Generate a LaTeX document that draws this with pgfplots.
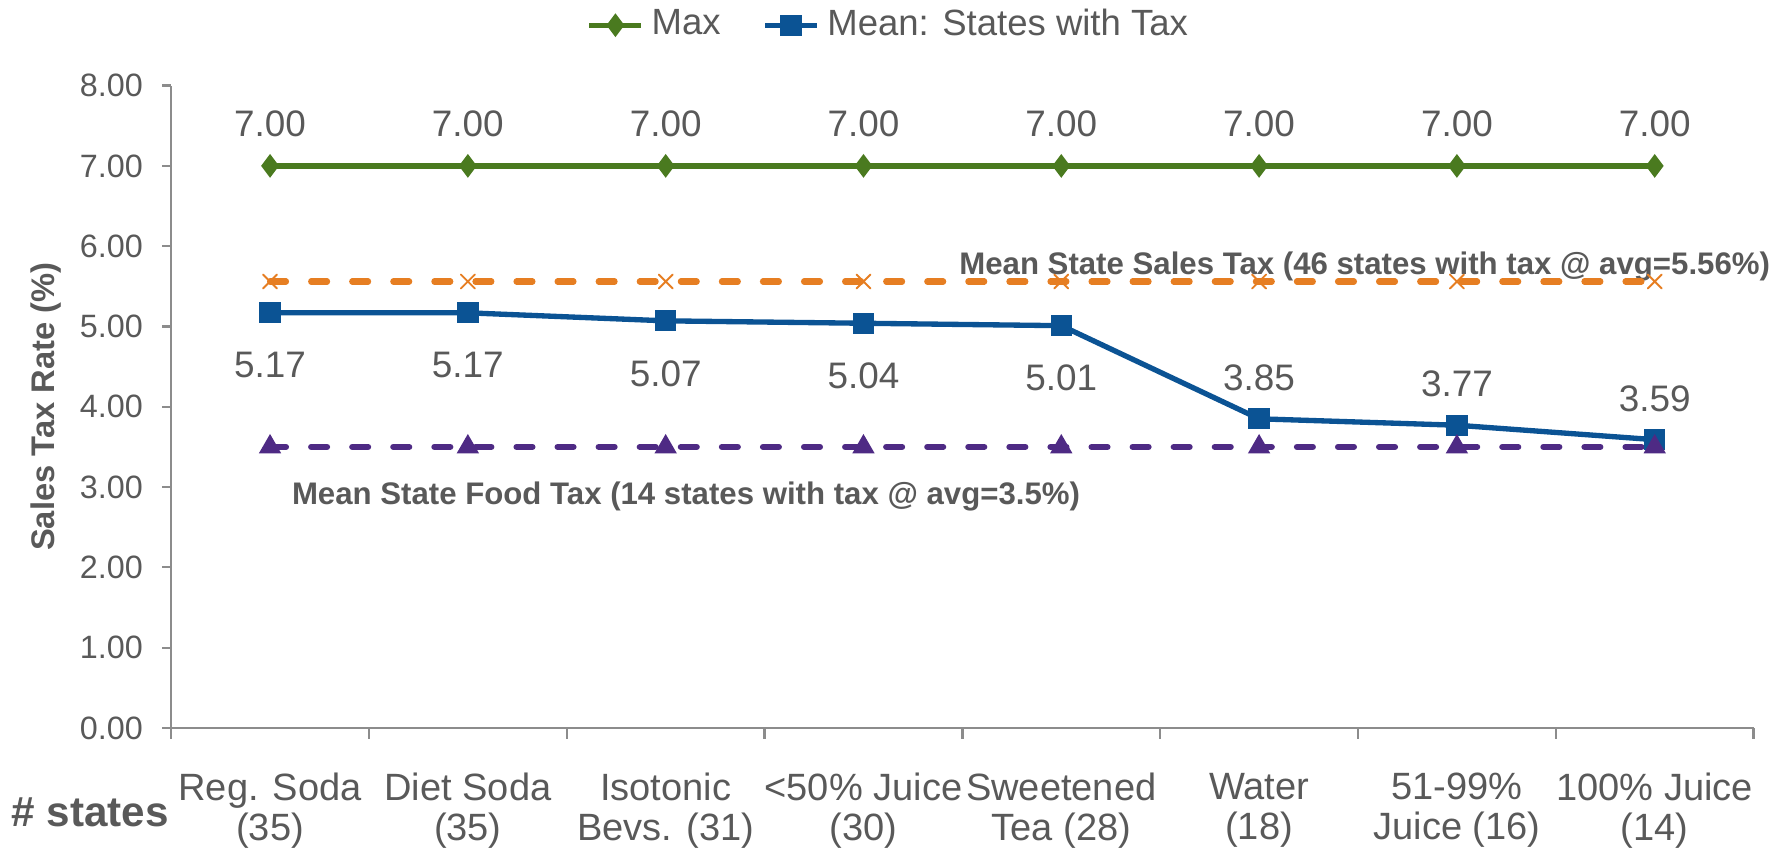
\documentclass[border=0pt]{standalone}
\usepackage{pgfplots}
\pgfplotsset{compat=1.18}
\usepackage{pgfplotstable}
\usepackage{fontspec}
\setmainfont{Liberation Sans}

\definecolor{maxgreen}{HTML}{4A7A1F}
\definecolor{meanblue}{HTML}{0B5394}
\definecolor{salesorange}{HTML}{E67E22}
\definecolor{foodpurple}{HTML}{4E2A84}
\definecolor{textgray}{HTML}{595959}
\definecolor{axisgray}{HTML}{8C8C8C}

% x = category index, rate in %, lbl = vertical offset of the value label (pt)
\pgfplotstableread{
x rate lbl
0 7.00 11.1
1 7.00 11.1
2 7.00 11.1
3 7.00 11.1
4 7.00 11.1
5 7.00 11.1
6 7.00 11.1
7 7.00 11.1
}\maxtable

\pgfplotstableread{
x rate lbl
0 5.17 -13.8
1 5.17 -13.8
2 5.07 -13.8
3 5.04 -13.8
4 5.01 -13.8
5 3.85 10.8
6 3.77 10.8
7 3.59 10.8
}\meantable

\pgfplotstableread{
x rate
0 5.56
1 5.56
2 5.56
3 5.56
4 5.56
5 5.56
6 5.56
7 5.56
}\salestable

\pgfplotstableread{
x rate
0 3.5
1 3.5
2 3.5
3 3.5
4 3.5
5 3.5
6 3.5
7 3.5
}\foodtable

\begin{document}
\begin{tikzpicture}
\useasboundingbox (0,0) rectangle (470.4pt,222.9pt);
\begin{axis}[
  at={(45pt,31.5pt)}, anchor=south west,
  scale only axis, width=416.1pt, height=168.9pt,
  xmin=-0.5, xmax=7.5, ymin=0, ymax=8,
  clip=false,
  axis x line*=bottom, axis y line*=left,
  axis line style={draw=axisgray, line width=0.6pt, -},
  tick align=outside,
  tick style={draw=axisgray, line width=0.6pt},
  ytick={0,1,...,8},
  major tick length=2.4pt,
  /pgf/number format/assume math mode=true,
  yticklabel={\pgfmathprintnumber[fixed,zerofill,precision=2]{\tick}},
  yticklabel style={font=\fontsize{8.5}{10}\selectfont, text=textgray, xshift=-1.5pt},
  xtick={0,...,7},
  x tick style={draw=none},
  minor xtick={-0.5,0.5,...,7.5},
  minor x tick style={draw=axisgray, line width=0.6pt},
  minor tick length=2.8pt,
  xticklabels={{Reg. Soda\\(35)},{Diet Soda\\(35)},{Isotonic\\Bevs. (31)},{<50\% Juice\\(30)},{Sweetened\\Tea (28)},{Water\\(18)},{51-99\%\\Juice (16)},{100\% Juice\\(14)}},
  xticklabel style={font=\fontsize{10}{10.4}\selectfont, text=textgray, align=center, yshift=-6pt},
  ylabel={Sales Tax Rate (\%)},
  ylabel style={at={(rel axis cs:-0.0793,0.5)}, anchor=center, font=\bfseries\fontsize{8.6}{10}\selectfont, text=textgray},
  legend style={at={(0.455,1.094)}, anchor=center, draw=none, fill=none,
    font=\fontsize{9.6}{11}\selectfont, text=textgray,
    legend columns=2,
    /tikz/every even column/.append style={column sep=9pt}},
  legend cell align=left,
  legend image code/.code={\draw[mark repeat=2,mark phase=2] plot coordinates {(0cm,0cm) (0.24cm,0cm) (0.48cm,0cm)};},
]

\addplot[color=maxgreen, line width=1.4pt, mark=diamond*, mark size=2.8pt,
  mark options={fill=maxgreen, draw=maxgreen, line width=0.4pt},
  point meta=y,
  nodes near coords={\pgfmathprintnumber[fixed,zerofill,precision=2]{\pgfplotspointmeta}},
  every node near coord/.append style={font=\fontsize{9.7}{11}\selectfont, text=textgray, anchor=center, yshift=11.1pt}]
  table[x=x, y=rate] {\maxtable};
\addlegendentry{Max}

\addplot[color=meanblue, line width=1.4pt, mark=square*, mark size=2.6pt,
  mark options={fill=meanblue, draw=meanblue, line width=0.4pt},
  point meta=y,
  visualization depends on={\thisrow{lbl} \as \lblshift},
  nodes near coords={\pgfmathprintnumber[fixed,zerofill,precision=2]{\pgfplotspointmeta}},
  every node near coord/.append style={font=\fontsize{9.7}{11}\selectfont, text=textgray, anchor=center, yshift=\lblshift pt}]
  table[x=x, y=rate] {\meantable};
\addlegendentry{Mean: States with Tax}

\node[font=\bfseries\fontsize{8.2}{10}\selectfont, text=textgray] at (axis cs:5.534,5.75)
  {Mean State Sales Tax (46 states with tax @ avg=5.56\%)};
\node[font=\bfseries\fontsize{8.2}{10}\selectfont, text=textgray] at (axis cs:2.103,2.88)
  {Mean State Food Tax (14 states with tax @ avg=3.5\%)};

\addplot[forget plot, color=salesorange, line width=1.6pt, line cap=round,
  dash pattern=on 4.2pt off 6.6pt, mark=x, mark size=2.6pt,
  mark options={solid, line width=0.5pt}]
  table[x=x, y=rate] {\salestable};

\addplot[forget plot, color=foodpurple, line width=1.6pt, line cap=round,
  dash pattern=on 4.2pt off 6.6pt, mark=triangle*, mark size=3pt,
  mark options={solid, fill=foodpurple, draw=foodpurple, line width=0.4pt}]
  table[x=x, y=rate] {\foodtable};

\node[font=\bfseries\fontsize{11.1}{13}\selectfont, text=textgray] at (rel axis cs:-0.0512,-0.1314) {\# states};
\end{axis}
\end{tikzpicture}
\end{document}
